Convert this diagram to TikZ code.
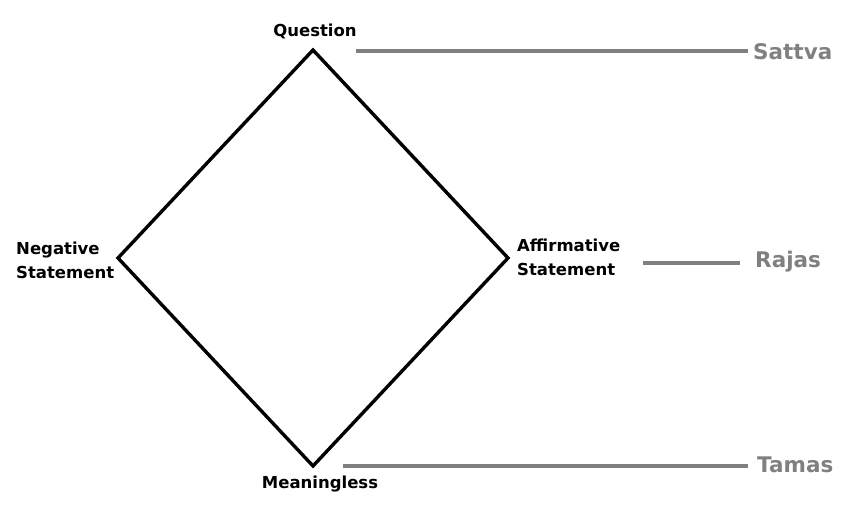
\documentclass[tikz,border=0pt]{standalone}
\usepackage{fontspec}
\setmainfont{DejaVu Sans}
\begin{document}
\begin{tikzpicture}[x=1pt,y=-1pt,
  edge/.style={line width=3.4pt,line join=miter},
  lbl/.style={font=\bfseries\fontsize{16.5}{24}\selectfont,text=black,inner sep=0pt,align=left},
  guna/.style={font=\bfseries\fontsize{21.5}{24}\selectfont,text=gray,inner sep=0pt,anchor=west},
  gline/.style={line width=4pt,draw=gray}]
\useasboundingbox (0,0) rectangle (851,517);
\coordinate (T) at (313,50);
\coordinate (L) at (118,258);
\coordinate (R) at (508,258);
\coordinate (B) at (313,466);
\draw[edge] (T) -- (R) -- (B) -- (L) -- cycle;
\node[lbl] (q) at (315,31) {Question};
\node[lbl,anchor=west] (neg) at (16,260) {Negative\\Statement};
\node[lbl,anchor=west] (aff) at (517,257) {Affirmative\\Statement};
\node[lbl] (m) at (320,484) {Meaningless};
\node[guna] (s) at (753,52) {Sattva};
\node[guna] (r) at (755,262) {Rajas};
\node[guna] (t) at (757,465) {Tamas};
\coordinate (s1) at (356,51);
\coordinate (s2) at (748,51);
\coordinate (r1) at (643,263);
\coordinate (r2) at (740,263);
\coordinate (t1) at (343,466);
\coordinate (t2) at (748,466);
\draw[gline] (s1) -- (s2);
\draw[gline] (r1) -- (r2);
\draw[gline] (t1) -- (t2);
\end{tikzpicture}
\end{document}
